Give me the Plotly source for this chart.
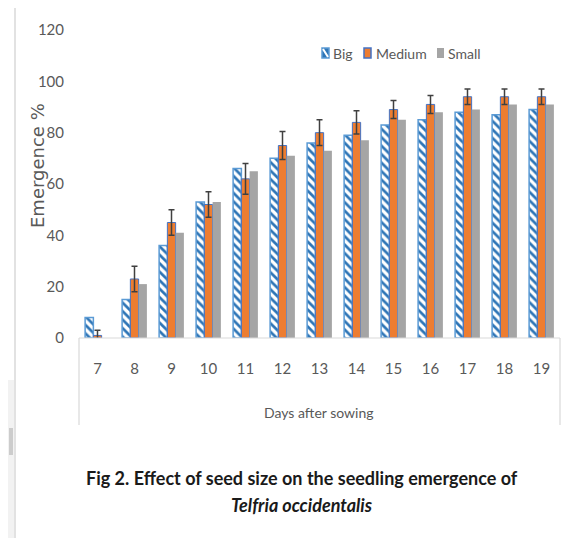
import plotly.graph_objects as go

days = ['7', '8', '9', '10', '11', '12', '13', '14', '15', '16', '17', '18', '19']
big = [8, 15, 36, 53, 66, 70, 76, 79, 83, 85, 88, 87, 89]
medium = [1, 23, 45, 52, 62, 75, 80, 84, 89, 91, 94, 94, 94]
medium_err = [2, 5, 5, 5, 6, 5.5, 5, 4.5, 3.5, 3.5, 3, 3, 3]
small = [0, 21, 41, 53, 65, 71, 73, 77, 85, 88, 89, 91, 91]

FONT = "Liberation Sans Narrow, Lato, sans-serif"
GREY_TXT = '#595959'
FRAME = '#D9D9D9'

# page pixels -> paper coords; plot area on the page is x 79..560, y 30 (120) .. 338 (0)
# (the page body has an 8px margin, so the figure margins are 8px smaller)
def px(x):
    return (x - 79) / 481

def py(y):
    return (338 - y) / 308

fig = go.Figure()
fig.add_trace(go.Bar(
    x=days, y=big, name='Big',
    marker=dict(color='#2E75B6', line=dict(color='#5B9BD5', width=1.5),
                pattern=dict(shape='\\', fgcolor='#2E75B6', bgcolor='white',
                             size=6, solidity=0.45, fillmode='replace')),
))
fig.add_trace(go.Bar(
    x=days, y=medium, name='Medium',
    marker=dict(color='#ED7D31', line=dict(color='#4472C4', width=1)),
    error_y=dict(type='data', array=medium_err, color='#404040', thickness=1.5, width=3),
))
fig.add_trace(go.Bar(
    x=days, y=small, name='Small',
    marker=dict(color='#A5A5A5', line=dict(width=0)),
))

shapes = [
    # axis box under the plot
    dict(type='line', xref='paper', yref='paper', x0=0, x1=1, y0=0, y1=0,
         line=dict(color=FRAME, width=1.2)),
    dict(type='line', xref='paper', yref='paper', x0=0, x1=0, y0=0, y1=py(425),
         line=dict(color=FRAME, width=1.2)),
    dict(type='line', xref='paper', yref='paper', x0=1, x1=1, y0=0, y1=py(425),
         line=dict(color=FRAME, width=1.2)),
    # outer frame
    dict(type='line', xref='paper', yref='paper', x0=px(15), x1=px(15), y0=py(550), y1=py(7),
         line=dict(color=FRAME, width=1.5)),
    dict(type='line', xref='paper', yref='paper', x0=px(15), x1=px(600), y0=py(7), y1=py(7),
         line=dict(color=FRAME, width=1.5)),
    dict(type='rect', xref='paper', yref='paper', x0=px(8), x1=px(14), y0=py(550), y1=py(380),
         fillcolor='#F2F2F2', line=dict(width=0), layer='below'),
    dict(type='rect', xref='paper', yref='paper', x0=px(9), x1=px(13), y0=py(455), y1=py(428),
         fillcolor='#CCCCCC', line=dict(width=0)),
    # legend swatches
    dict(type='rect', xref='paper', yref='paper', x0=px(322), x1=px(329), y0=py(58), y1=py(48),
         fillcolor='#2E75B6', line=dict(color='#5B9BD5', width=1.5)),
    dict(type='line', xref='paper', yref='paper', x0=px(323), x1=px(328), y0=py(49), y1=py(57),
         line=dict(color='white', width=2)),
    dict(type='rect', xref='paper', yref='paper', x0=px(364), x1=px(371), y0=py(58), y1=py(48),
         fillcolor='#ED7D31', line=dict(color='#4472C4', width=1.5)),
    dict(type='rect', xref='paper', yref='paper', x0=px(437), x1=px(444), y0=py(58), y1=py(48),
         fillcolor='#A5A5A5', line=dict(width=0)),
]

annotations = [
    dict(text='Big', x=px(331), y=py(53)),
    dict(text='Medium', x=px(374), y=py(53)),
    dict(text='Small', x=px(446), y=py(53)),
]
for a in annotations:
    a.update(xref='paper', yref='paper', xanchor='left', yanchor='middle', showarrow=False,
             font=dict(family=FONT, size=14, color=GREY_TXT))

annotations += [
    dict(text='Emergence %', x=px(37), y=py(166), textangle=-90,
         font=dict(family='DejaVu Sans, sans-serif', size=18, color=GREY_TXT)),
    dict(text='Days after sowing', x=px(319), y=py(412),
         font=dict(family=FONT, size=14, color=GREY_TXT)),
    dict(text='<b>Fig 2. Effect of seed size on the seedling emergence of</b>', x=px(302), y=py(478),
         font=dict(family=FONT, size=18, color='#1a1a1a')),
    dict(text='<b><i>Telfria occidentalis</i></b>', x=px(302), y=py(505),
         font=dict(family=FONT, size=18, color='#1a1a1a')),
]
for a in annotations[3:]:
    a.update(xref='paper', yref='paper', xanchor='center', yanchor='middle', showarrow=False)

fig.update_layout(
    width=587, height=538,
    margin=dict(l=71, r=35, t=22, b=208),
    plot_bgcolor='white', paper_bgcolor='white',
    barmode='group', bargap=0.33, bargroupgap=0,
    showlegend=False,
    shapes=shapes, annotations=annotations,
    font=dict(family=FONT, size=14, color=GREY_TXT),
    xaxis=dict(type='category', showgrid=False, showline=False, zeroline=False,
               ticks='', ticklabelstandoff=20, tickfont=dict(size=15)),
    yaxis=dict(range=[0, 120], dtick=20, showgrid=False, showline=False, zeroline=False,
               ticks='', ticklabelstandoff=14, tickfont=dict(size=15)),
)

fig.write_html("out.html")
